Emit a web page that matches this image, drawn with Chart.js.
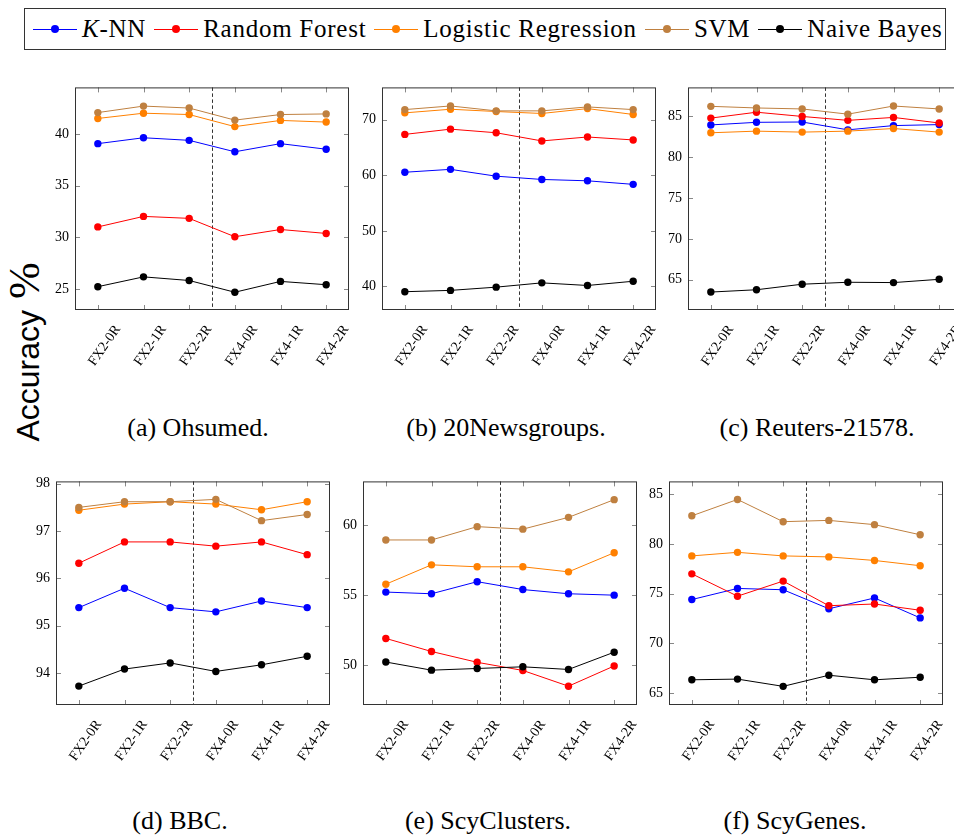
<!DOCTYPE html>
<html>
<head>
<meta charset="utf-8">
<script src="https://cdn.jsdelivr.net/npm/chart.js@4.4.0/dist/chart.umd.min.js"></script>
<style>
  html, body { margin: 0; padding: 0; width: 954px; height: 838px; overflow: hidden; background: #fff; }
  canvas { position: absolute; }
  .caption { position: absolute; font-family: "Liberation Serif", serif; font-size: 26px; color: #000; white-space: nowrap; transform: translateX(-50%); }
  #legend { position: absolute; left: 24px; top: 8px; width: 922px; height: 42px; border: 1px solid #333; box-sizing: border-box;
            display: flex; align-items: center; padding-left: 8px; font-family: "Liberation Serif", serif; font-size: 25px;
            letter-spacing: 0.75px; color: #000; }
  .item { display: flex; align-items: center; margin-right: 8px; white-space: nowrap; }
  .swatch { position: relative; width: 44px; height: 1px; margin-right: 5px; }
  .swatch i { position: absolute; left: 18px; top: -4px; width: 8px; height: 8px; border-radius: 50%; }
  #ylabel { position: absolute; left: 24px; top: 352px; transform: translate(-50%, -50%) rotate(-90deg); white-space: nowrap;
            font-family: "Liberation Sans", sans-serif; font-size: 32px; color: #000; }
  #ylabel span { font-family: "Liberation Serif", serif; font-size: 44px; margin-left: 2px; }
</style>
</head>
<body>
<div id="legend"></div>
<div id="ylabel">Accuracy <span>%</span></div>

<script>
// x categories and series names
const categories = ['FX2-0R', 'FX2-1R', 'FX2-2R', 'FX4-0R', 'FX4-1R', 'FX4-2R'];
const methods = ['K-NN', 'Random Forest', 'Logistic Regression', 'SVM', 'Naive Bayes'];
const colors = ['#0000ff', '#ff0000', '#ff8000', '#bf8040', '#000000'];

// rows: K-NN, Random Forest, Logistic Regression, SVM, Naive Bayes
const ohsumed = [
  [39.08, 39.65, 39.40, 38.29, 39.08, 38.54],
  [31.01, 32.03, 31.84, 30.06, 30.76, 30.38],
  [41.52, 42.03, 41.90, 40.73, 41.33, 41.17],
  [42.09, 42.72, 42.53, 41.36, 41.90, 41.96],
  [25.22, 26.17, 25.82, 24.68, 25.73, 25.41]
];
const newsgroups = [
  [60.55, 61.07, 59.84, 59.25, 59.01, 58.37],
  [67.36, 68.30, 67.65, 66.18, 66.89, 66.36],
  [71.23, 71.88, 71.47, 71.12, 72.00, 70.94],
  [71.82, 72.47, 71.59, 71.59, 72.30, 71.82],
  [39.06, 39.30, 39.88, 40.65, 40.18, 40.94]
];
const reuters = [
  [83.96, 84.28, 84.32, 83.36, 83.88, 84.00],
  [84.80, 85.52, 85.00, 84.52, 84.88, 84.20],
  [83.00, 83.20, 83.08, 83.20, 83.52, 83.08],
  [86.24, 86.04, 85.92, 85.28, 86.28, 85.92],
  [63.48, 63.76, 64.44, 64.68, 64.64, 65.04]
];
const bbc = [
  [95.38, 95.79, 95.38, 95.29, 95.52, 95.38],
  [96.32, 96.77, 96.77, 96.68, 96.77, 96.50],
  [97.44, 97.57, 97.62, 97.57, 97.45, 97.62],
  [97.50, 97.62, 97.62, 97.67, 97.22, 97.35],
  [93.72, 94.08, 94.21, 94.03, 94.17, 94.35]
];
const scyClusters = [
  [55.22, 55.10, 55.96, 55.40, 55.10, 55.00],
  [51.92, 50.99, 50.22, 49.64, 48.52, 49.96],
  [55.78, 57.16, 57.02, 57.02, 56.66, 58.02],
  [58.93, 58.93, 59.88, 59.70, 60.54, 61.80],
  [50.24, 49.66, 49.78, 49.90, 49.71, 50.94]
];
const scyGenes = [
  [74.41, 75.53, 75.40, 73.48, 74.57, 72.56],
  [77.00, 74.75, 76.27, 73.79, 73.96, 73.33],
  [78.81, 79.17, 78.81, 78.71, 78.35, 77.82],
  [82.85, 84.50, 82.26, 82.39, 81.96, 80.94],
  [66.32, 66.39, 65.66, 66.78, 66.32, 66.58]
];

const captions = ['(a)  Ohsumed.', '(b)  20Newsgroups.', '(c)  Reuters-21578.', '(d)  BBC.', '(e)  ScyClusters.', '(f)  ScyGenes.'];
const yTicks = [[25, 30, 35, 40], [40, 50, 60, 70], [65, 70, 75, 80, 85], [94, 95, 96, 97, 98], [50, 55, 60], [65, 70, 75, 80, 85]];

// layout: plot area left/top/height, y range, caption centre
const panels = [
  { data: ohsumed,     left: 75,  top: 83,  h: 227, min: 22.96, max: 44.53, capX: 198, capY: 413 },
  { data: newsgroups,  left: 382, top: 83,  h: 227, min: 35.77, max: 75.81, capX: 506, capY: 413 },
  { data: reuters,     left: 688, top: 83,  h: 227, min: 61.28, max: 88.56, capX: 817, capY: 413 },
  { data: bbc,         left: 56,  top: 477, h: 228, min: 93.32, max: 98.05, capX: 180, capY: 806 },
  { data: scyClusters, left: 363, top: 477, h: 228, min: 47.18, max: 63.10, capX: 488, capY: 806 },
  { data: scyGenes,    left: 669, top: 477, h: 228, min: 63.78, max: 86.32, capX: 795, capY: 806 }
];

const PLOT_W = 274, Y_W = 40, X_H = 70, PAD_T = 10, PAD_R = 10;

// pgfplots style box, inward ticks and the dashed FX2/FX4 separator
const framePlugin = {
  id: 'frame',
  beforeDatasetsDraw(chart) {
    const { ctx, chartArea: a, scales: { x } } = chart;
    const sx = Math.round((x.getPixelForValue(2) + x.getPixelForValue(3)) / 2) + 0.5;
    ctx.save();
    ctx.strokeStyle = '#333';
    ctx.lineWidth = 1;
    ctx.setLineDash([3.5, 2.5]);
    ctx.beginPath();
    ctx.moveTo(sx, a.top);
    ctx.lineTo(sx, a.bottom);
    ctx.stroke();
    ctx.restore();
  },
  afterDraw(chart) {
    const { ctx, chartArea: a, scales: { x, y } } = chart;
    ctx.save();
    ctx.lineWidth = 1;
    ctx.strokeStyle = '#888';
    ctx.beginPath();
    x.ticks.forEach((t, i) => {
      const px = Math.round(x.getPixelForTick(i)) + 0.5;
      ctx.moveTo(px, a.bottom); ctx.lineTo(px, a.bottom - 5);
      ctx.moveTo(px, a.top); ctx.lineTo(px, a.top + 5);
    });
    y.ticks.forEach(t => {
      const py = Math.round(y.getPixelForValue(t.value)) + 0.5;
      ctx.moveTo(a.left, py); ctx.lineTo(a.left + 5, py);
      ctx.moveTo(a.right, py); ctx.lineTo(a.right - 5, py);
    });
    ctx.stroke();
    ctx.strokeStyle = '#333';
    ctx.strokeRect(a.left + 0.5, a.top + 0.5, a.right - a.left - 1, a.bottom - a.top - 1);
    ctx.restore();
  }
};

function makePanel(p, idx) {
  const canvas = document.createElement('canvas');
  const w = Y_W + PLOT_W + PAD_R, h = PAD_T + p.h + X_H;
  canvas.width = w; canvas.height = h;
  canvas.style.left = (p.left - Y_W) + 'px';
  canvas.style.top = (p.top - PAD_T) + 'px';
  canvas.style.width = w + 'px'; canvas.style.height = h + 'px';
  document.body.appendChild(canvas);

  const cap = document.createElement('div');
  cap.className = 'caption';
  cap.textContent = captions[idx];
  cap.style.left = p.capX + 'px';
  cap.style.top = p.capY + 'px';
  document.body.appendChild(cap);

  new Chart(canvas, {
    type: 'line',
    data: {
      labels: categories,
      datasets: methods.map((m, i) => ({
        label: m,
        data: p.data[i],
        borderColor: colors[i],
        backgroundColor: colors[i],
        borderWidth: 1,
        pointRadius: 3.7,
        pointBorderWidth: 0,
        tension: 0,
        order: methods.length - i
      }))
    },
    options: {
      responsive: false,
      animation: false,
      layout: { padding: { top: PAD_T, right: PAD_R, left: 0, bottom: 0 } },
      plugins: { legend: { display: false }, tooltip: { enabled: false } },
      scales: {
        x: {
          offset: true,
          grid: { display: false, drawTicks: false },
          border: { display: false },
          ticks: {
            autoSkip: false, minRotation: 55, maxRotation: 55,
            labelOffset: 20, padding: 12, color: '#000',
            font: { family: 'Liberation Serif', size: 14 }
          },
          afterFit: s => { s.height = X_H; }
        },
        y: {
          min: p.min, max: p.max,
          grid: { display: false, drawTicks: false },
          border: { display: false },
          afterBuildTicks: s => { s.ticks = yTicks[idx].map(v => ({ value: v })); },
          ticks: { padding: 6, color: '#000', font: { family: 'Liberation Serif', size: 14 } },
          afterFit: s => { s.width = Y_W; }
        }
      }
    },
    plugins: [framePlugin]
  });
}

// legend built from the same series names and colours
const legend = document.getElementById('legend');
methods.forEach((m, i) => {
  const item = document.createElement('div');
  item.className = 'item';
  const sw = document.createElement('div');
  sw.className = 'swatch';
  sw.style.background = colors[i];
  const dot = document.createElement('i');
  dot.style.background = colors[i];
  sw.appendChild(dot);
  const label = document.createElement('span');
  if (m === 'K-NN') label.innerHTML = '<i>K</i>-NN';
  else label.textContent = m;
  item.appendChild(sw);
  item.appendChild(label);
  legend.appendChild(item);
});

panels.forEach(makePanel);
</script>
</body>
</html>
